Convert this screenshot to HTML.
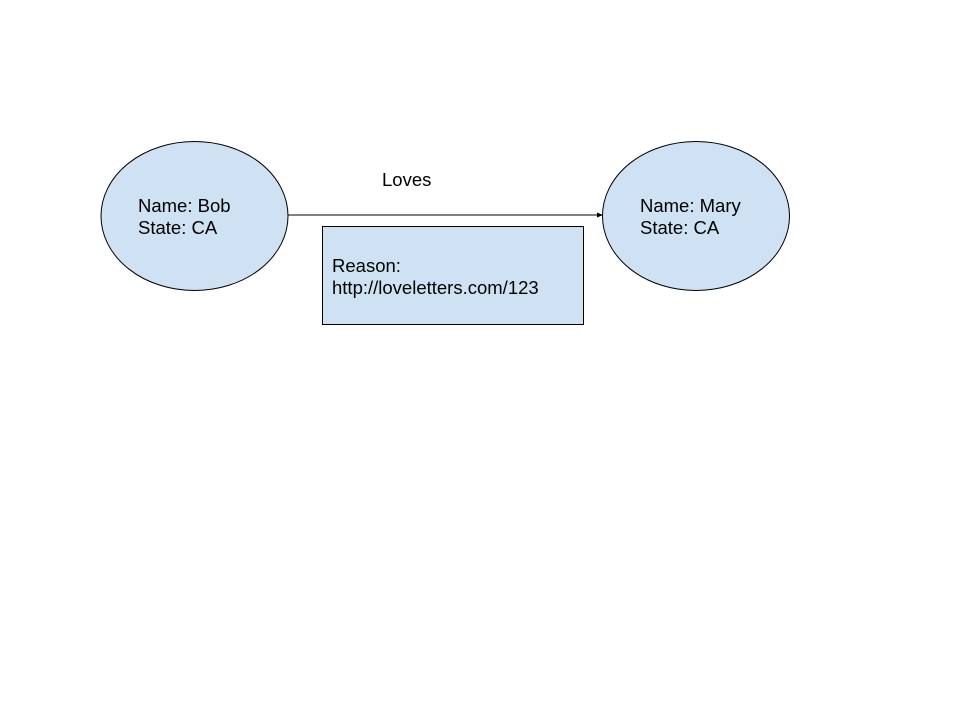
<!DOCTYPE html>
<html><head><style>body{margin:0;background:#fff}svg{display:block}</style></head>
<body>
<svg width="960" height="720" xmlns="http://www.w3.org/2000/svg" font-family="Liberation Sans, sans-serif" font-size="18.5" fill="#000">
<rect width="960" height="720" fill="#fff"/>
<ellipse cx="194.5" cy="216" rx="93.5" ry="74.5" fill="#cfe2f3" stroke="#000" stroke-width="1"/>
<ellipse cx="696" cy="216" rx="93.5" ry="74.5" fill="#cfe2f3" stroke="#000" stroke-width="1"/>
<line x1="288" y1="215" x2="598" y2="215" stroke="#000" stroke-width="1"/>
<polygon points="603,215 597,212.5 597,217.5" fill="#000"/>
<rect x="322.5" y="226.5" width="261" height="98" fill="#cfe2f3" stroke="#000" stroke-width="1"/>
<text x="382" y="186">Loves</text>
<text x="138" y="212">Name: Bob</text>
<text x="138" y="234">State: CA</text>
<text x="640" y="212">Name: Mary</text>
<text x="640" y="234">State: CA</text>
<text x="332" y="272">Reason:</text>
<text x="332" y="294">http://loveletters.com/123</text>
</svg>
</body></html>
